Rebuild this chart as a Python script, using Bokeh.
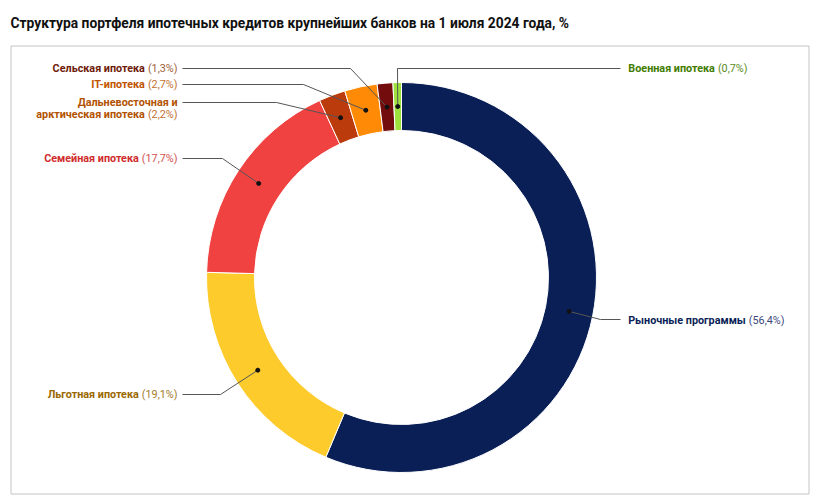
import math
from bokeh.plotting import figure
from bokeh.models import Range1d, ColumnDataSource
from bokeh.embed import file_html
from bokeh.resources import INLINE
from bokeh.core.properties import value

# ---------------- data ----------------
title = "Структура портфеля ипотечных кредитов крупнейших банков на 1 июля 2024 года, %"
categories = [
    "Рыночные программы",
    "Льготная ипотека",
    "Семейная ипотека",
    "Дальневосточная и\nарктическая ипотека",
    "IT-ипотека",
    "Сельская ипотека",
    "Военная ипотека",
]
shares = [56.4, 19.1, 17.7, 2.2, 2.7, 1.3, 0.7]
slice_colors = ["#0b1f57", "#fdcb2c", "#f04341", "#bb3b0c", "#ff8a05", "#730c0c", "#9ee03c"]
name_colors = ["#0b1f57", "#9a6800", "#d02c2c", "#b25200", "#c05400", "#6e1a0a", "#3f7c00"]
pct_colors = ["#3a4a7a", "#a27a2a", "#d25050", "#bf7030", "#c27030", "#a0603a", "#5a8c20"]

# ---------------- layout (screen pixels) ----------------
W, H = 813, 495
CX, CY = 401, 277
R_OUT, R_IN = 195, 147
R_MID = (R_OUT + R_IN) / 2
FONT = "Roboto"
FS = 10.8
# right-end x of label, y of first line, connector elbow points (from slice outward)
label_layout = [
    (784, 320, [(600, 319), (620, 319)]),
    (177, 394, [(220, 394), (182, 394)]),
    (177, 158, [(222, 158), (182, 158)]),
    (177, 102, [(276, 102), (182, 102)]),
    (177, 84, [(303, 84), (182, 84)]),
    (177, 68, [(350, 68), (182, 68)]),
    (747, 68, [(397, 68), (620, 68)]),
]

CHAR_W = {"(": 0.342, ")": 0.348, ",": 0.196, "%": 0.733, " ": 0.248}


def est_width(s, size):
    return sum(CHAR_W.get(c, 0.562) for c in s) * size


p = figure(width=W, height=H, x_range=Range1d(0, W), y_range=Range1d(-H, 0),
           output_backend="svg", toolbar_location=None, min_border=0)
p.axis.visible = False
p.grid.visible = False
p.outline_line_color = None
p.background_fill_color = "white"
p.border_fill_color = "white"

# frame
p.quad(left=10.5, right=808.5, top=-45.5, bottom=-493.5, fill_color=None, line_color="#c4c4c4", line_width=1)

# title
p.text(x=[10], y=[-22], text=[title], text_font=value(FONT), text_font_size="13.8px",
       text_font_style="bold", text_color="#111111", text_baseline="middle", text_align="left")

# donut
total = sum(shares)
starts, ends, mids = [], [], []
c = 0.0
for s in shares:
    c0, c1 = c / total, (c + s) / total
    starts.append(math.pi / 2 - 2 * math.pi * c1)
    ends.append(math.pi / 2 - 2 * math.pi * c0)
    mids.append(math.pi / 2 - 2 * math.pi * (c0 + c1) / 2)
    c += s

src = ColumnDataSource(dict(x=[CX] * len(shares), y=[-CY] * len(shares), start=starts, end=ends,
                            color=slice_colors))
p.annular_wedge(x="x", y="y", inner_radius=R_IN, outer_radius=R_OUT, start_angle="start",
                end_angle="end", fill_color="color", line_color="white", line_width=1, source=src)

# connectors and dots
dot_x = [CX + R_MID * math.cos(a) for a in mids]
dot_y = [-(CY - R_MID * math.sin(a)) for a in mids]
xs, ys = [], []
for i, (rx, ty, elbows) in enumerate(label_layout):
    xs.append([dot_x[i]] + [e[0] for e in elbows])
    ys.append([dot_y[i]] + [-e[1] for e in elbows])
p.multi_line(xs=xs, ys=ys, line_color="#555555", line_width=1)
p.scatter(x=dot_x, y=dot_y, size=4, fill_color="#111111", line_color="#111111")

# labels
nx, ny, nt, nc = [], [], [], []
px, py, pt, pc = [], [], [], []
for i, (rx, ty, elbows) in enumerate(label_layout):
    pct = "(" + f"{shares[i]:.1f}".replace(".", ",") + "%)"
    pw = est_width(pct, FS)
    lines = categories[i].split("\n")
    for j, line in enumerate(lines):
        y = -(ty + 12 * j)
        if j == len(lines) - 1:
            nx.append(rx - pw - 3)
            px.append(rx); py.append(y); pt.append(pct); pc.append(pct_colors[i])
        else:
            nx.append(rx)
        ny.append(y); nt.append(line); nc.append(name_colors[i])

p.text(x=nx, y=ny, text=nt, text_color=nc, text_font=value(FONT), text_font_size=f"{FS}px",
       text_font_style="bold", text_align="right", text_baseline="middle")
p.text(x=px, y=py, text=pt, text_color=pc, text_font=value(FONT), text_font_size=f"{FS}px",
       text_align="right", text_baseline="middle")

open("out.html", "w").write(file_html(p, INLINE))
